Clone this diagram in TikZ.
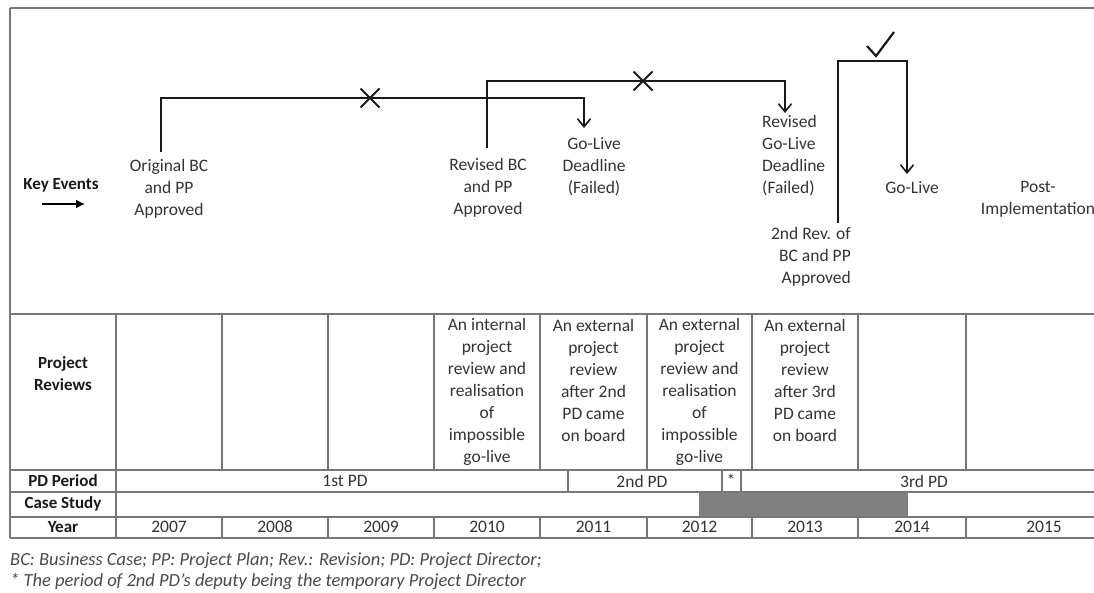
\documentclass[tikz,border=0pt]{standalone}
\usepackage{fontspec}
\setmainfont{Carlito}
\usetikzlibrary{arrows.meta,shapes.misc}
\definecolor{txt}{HTML}{333333}
\definecolor{gridc}{HTML}{777777}
\definecolor{barc}{HTML}{808080}
\definecolor{notec}{HTML}{4A4A4A}
\begin{document}
\begin{tikzpicture}[x=1pt,y=-1pt,
  lbl/.style={inner sep=0pt, align=center, text=txt, font=\fontsize{17.5}{22}\selectfont},
  hdr/.style={inner sep=0pt, align=center, text=black!90, font=\bfseries\fontsize{17}{22}\selectfont},
  note/.style={inner sep=0pt, anchor=west, text=notec, font=\itshape\fontsize{18.5}{21}\selectfont},
  conn/.style={line width=2pt, draw=black!90},
  tip/.style={-{Straight Barb[length=8pt,width=13pt,line width=1.6pt]}},
  gridline/.style={line width=1.3pt, draw=gridc},
  xmk/.style={cross out, draw=black!90, line width=2pt, minimum size=17pt, inner sep=0pt}
]
\useasboundingbox (0,0) rectangle (1094,592);
\begin{scope}
\clip (0,0) rectangle (1094,592);
% frame
\draw[gridline, line width=1.6pt] (10,8) -- (1100,8);
\draw[gridline] (10,8) -- (10,538);
% table horizontal lines
\foreach \yy in {314,470,492,517,538} \draw[gridline] (10,\yy) -- (1100,\yy);
% project reviews & year columns
\foreach \xx in {116,222,328,434,540,647,752,858,966} {
  \draw[gridline] (\xx,314) -- (\xx,470);
  \draw[gridline] (\xx,517) -- (\xx,538);
}
% PD period dividers
\foreach \xx in {116,568,722,741} \draw[gridline] (\xx,470) -- (\xx,492);
% case study
\draw[gridline] (116,492) -- (116,517);
\fill[barc] (699,493) rectangle (908,516);
\end{scope}

% key events label
\node[hdr] (keyev) at (61,185) {Key Events};
\coordinate (ka) at (42,204);
\coordinate (kb) at (85,204);
\draw[line width=2.4pt, -{Latex[length=9pt,width=9pt]}] (ka) -- (kb);

% event labels
\node[lbl] (orig) at (169,189) {Original BC\\and PP\\Approved};
\node[lbl] (revbc) at (488,188) {Revised BC\\and PP\\Approved};
\node[lbl] (gld) at (594,167) {Go-Live\\Deadline\\(Failed)};
\node[lbl, align=left, anchor=west] (rgld) at (762,155.5) {Revised\\Go-Live\\Deadline\\(Failed)};
\node[lbl] (golive) at (912,188) {Go-Live};
\node[lbl, align=right, anchor=east] (rev2) at (851,257) {2nd Rev. of\\BC and PP\\Approved};
\node[lbl] (post) at (1038,199) {Post-\\Implementation};

% connectors
\coordinate (o0) at (161,152);
\coordinate (o2) at (584,98);
\coordinate (o3) at (584,128);
\draw[conn, tip] (o0) |- (o2) -- (o3);
\coordinate (r0) at (487,148);
\coordinate (r2) at (785,81);
\coordinate (r3) at (785,113);
\draw[conn, tip] (r0) |- (r2) -- (r3);
\coordinate (s0) at (838,223);
\coordinate (s2) at (907,61);
\coordinate (s3) at (907,174);
\draw[conn, tip] (s0) |- (s2) -- (s3);
\node[xmk] (x1) at (370,98) {};
\node[xmk] (x2) at (643,81) {};
\coordinate (ck1) at (867,46);
\coordinate (ck2) at (876,56);
\coordinate (ck3) at (894,32);
\draw[line width=2.2pt, black!90] (ck1) -- (ck2) -- (ck3);

% table labels
\node[hdr] (prl) at (63,374) {Project\\Reviews};
\node[hdr] (pdl) at (63,481) {PD Period};
\node[hdr] (csl) at (63,504) {Case Study};
\node[hdr] (yrl) at (63,527) {Year};

\node[lbl] (rv10) at (487,391.5) {An internal\\project\\review and\\realisation\\of\\impossible\\go-live};
\node[lbl] (rv11) at (593.5,380.5) {An external\\project\\review\\after 2nd\\PD came\\on board};
\node[lbl] (rv12) at (699.5,391.5) {An external\\project\\review and\\realisation\\of\\impossible\\go-live};
\node[lbl] (rv13) at (805,380.5) {An external\\project\\review\\after 3rd\\PD came\\on board};

\node[lbl] (pd1) at (345,481) {1st PD};
\node[lbl] (pd2) at (642,481) {2nd PD};
\node[lbl] (pdx) at (731,480) {*};
\node[lbl] (pd3) at (924,481) {3rd PD};

\node[lbl] (y07) at (169,527) {2007};
\node[lbl] (y08) at (275,527) {2008};
\node[lbl] (y09) at (381,527) {2009};
\node[lbl] (y10) at (487,527) {2010};
\node[lbl] (y11) at (593.5,527) {2011};
\node[lbl] (y12) at (699.5,527) {2012};
\node[lbl] (y13) at (805,527) {2013};
\node[lbl] (y14) at (912,527) {2014};
\node[lbl] (y15) at (1044,527) {2015};

% footnotes
\node[note] (n1) at (10,561) {BC: Business Case; PP: Project Plan; Rev.: Revision; PD: Project Director;};
\node[note] (n2) at (10,582) {* The period of 2nd PD’s deputy being the temporary Project Director};
\end{tikzpicture}
\end{document}
